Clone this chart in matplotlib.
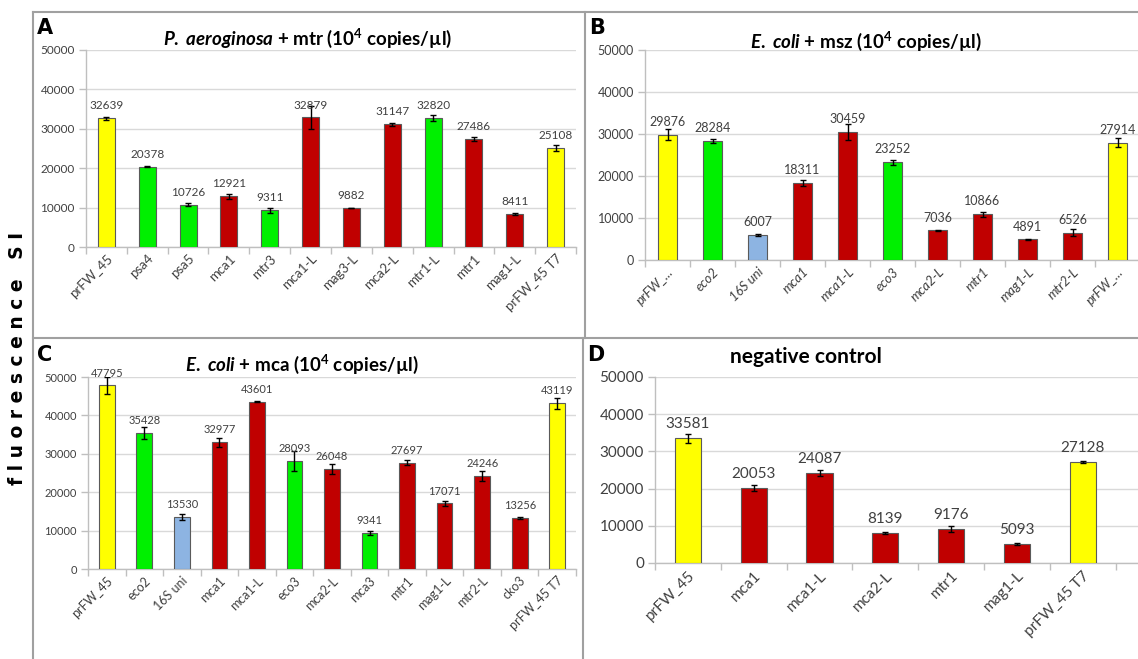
import matplotlib
matplotlib.use("Agg")
import matplotlib.pyplot as plt
from matplotlib.lines import Line2D

plt.rcParams['font.family'] = ['Lato', 'DejaVu Sans']
plt.rcParams['mathtext.fontset'] = 'custom'
plt.rcParams['mathtext.rm'] = 'Lato:bold'
plt.rcParams['mathtext.it'] = 'Lato:italic:bold'
plt.rcParams['mathtext.bf'] = 'Lato:bold'

YELLOW = '#FFFF00'
GREEN = '#00F000'
RED = '#C00000'
BLUE = '#8DB4E2'

# ---------------- data ----------------
a_labels = ['prFW_45', 'psa4', 'psa5', 'mca1', 'mtr3', 'mca1-L', 'mag3-L', 'mca2-L',
            'mtr1-L', 'mtr1', 'mag1-L', 'prFW_45 T7']
a_values = [32639, 20378, 10726, 12921, 9311, 32879, 9882, 31147, 32820, 27486, 8411, 25108]
a_errors = [300, 170, 420, 640, 640, 3000, 100, 420, 760, 500, 250, 680]
a_colors = [YELLOW, GREEN, GREEN, RED, GREEN, RED, RED, RED, GREEN, RED, RED, YELLOW]

b_labels = ['prFW_...', 'eco2', '16S uni', 'mca1', 'mca1-L', 'eco3', 'mca2-L', 'mtr1',
            'mag1-L', 'mtr2-L', 'prFW_...']
b_values = [29876, 28284, 6007, 18311, 30459, 23252, 7036, 10866, 4891, 6526, 27914]
b_errors = [1400, 520, 240, 720, 2000, 640, 150, 680, 100, 800, 1050]
b_colors = [YELLOW, GREEN, BLUE, RED, RED, GREEN, RED, RED, RED, RED, YELLOW]

c_labels = ['prFW_45', 'eco2', '16S uni', 'mca1', 'mca1-L', 'eco3', 'mca2-L', 'mca3',
            'mtr1', 'mag1-L', 'mtr2-L', 'cko3', 'prFW_45 T7']
c_values = [47795, 35428, 13530, 32977, 43601, 28093, 26048, 9341, 27697, 17071, 24246,
            13256, 43119]
c_errors = [2150, 1500, 740, 1170, 60, 2600, 1300, 560, 740, 690, 1390, 220, 1390]
c_colors = [YELLOW, GREEN, BLUE, RED, RED, GREEN, RED, GREEN, RED, RED, RED, RED, YELLOW]

d_labels = ['prFW_45', 'mca1', 'mca1-L', 'mca2-L', 'mtr1', 'mag1-L', 'prFW_45 T7']
d_values = [33581, 20053, 24087, 8139, 9176, 5093, 27128]
d_errors = [1200, 800, 800, 300, 900, 150, 300]
d_colors = [YELLOW, RED, RED, RED, RED, RED, YELLOW]

yticks = [0, 10000, 20000, 30000, 40000, 50000]

W, H = 1138, 659
fig = plt.figure(figsize=(W / 100, H / 100), dpi=100)


def px_axes(x0, x1, y0, y1):
    return fig.add_axes([x0 / W, 1 - y1 / H, (x1 - x0) / W, (y1 - y0) / H])


def panel(ax, labels, values, errors, colors, fs_tick, fs_val, fs_x, italic_x=False,
          width=0.42, xmax=None, val_off=5):
    n = len(values)
    xs = list(range(n))
    ax.bar(xs, values, width=width, color=colors, edgecolor='#5a5a5a', linewidth=0.8,
           zorder=3, yerr=errors,
           error_kw=dict(ecolor='black', elinewidth=1.0, capsize=2.5, capthick=1.0, zorder=4))
    for x, v, e in zip(xs, values, errors):
        ax.annotate(f'{v}', (x, v), xytext=(0, val_off), textcoords='offset points',
                    ha='center', va='bottom', fontsize=fs_val, color='#404040', zorder=5)
    ax.set_ylim(0, 50000)
    ax.set_xlim(-0.5, (n - 0.5) if xmax is None else xmax)
    ax.set_yticks(yticks)
    ax.set_yticklabels([str(t) for t in yticks], fontsize=fs_tick, color='#404040')
    ax.set_xticks(xs)
    ax.set_xticklabels(labels, rotation=45, ha='right', rotation_mode='anchor',
                       fontsize=fs_x, color='#404040',
                       fontstyle='italic' if italic_x else 'normal')
    ax.set_xticks([i - 0.5 for i in range(n + 1)], minor=True)
    ax.tick_params(axis='x', which='major', length=0, pad=4)
    ax.tick_params(axis='x', which='minor', length=5, color='#bfbfbf', width=1)
    ax.tick_params(axis='y', length=5, color='#bfbfbf', width=1, pad=3)
    ax.grid(axis='y', color='#d9d9d9', linewidth=1, zorder=0)
    for s in ['top', 'right']:
        ax.spines[s].set_visible(False)
    for s in ['left', 'bottom']:
        ax.spines[s].set_color('#bfbfbf')
        ax.spines[s].set_linewidth(1)
    ax.set_facecolor('none')


axA = px_axes(86, 576, 50, 247)
panel(axA, a_labels, a_values, a_errors, a_colors, 8.5, 8.5, 9.5)
axB = px_axes(645, 1140, 50, 260)
panel(axB, b_labels, b_values, b_errors, b_colors, 9, 9, 9.5, italic_x=True)
axC = px_axes(88, 576, 377, 569)
panel(axC, c_labels, c_values, c_errors, c_colors, 8, 8, 9)
axD = px_axes(655, 1138, 377, 563)
panel(axD, d_labels, d_values, d_errors, d_colors, 11, 11, 11, width=0.4,
      xmax=-0.5 + (1138 - 655) / 65.8)

# panel borders
border = '#a0a0a0'
def fline(xs, ys):
    fig.add_artist(Line2D([x / W for x in xs], [1 - y / H for y in ys],
                          color=border, linewidth=1.5))
fline([33, 1138], [12, 12])
fline([33, 33], [12, 659])
fline([33, 1138], [338, 338])
fline([585, 585], [12, 338])
fline([583, 583], [338, 659])

# panel letters
for letter, x, y in [('A', 37, 28), ('B', 589, 28), ('C', 37, 355), ('D', 587, 355)]:
    fig.text(x / W, 1 - y / H, letter, fontsize=15, fontweight='bold', ha='left',
             va='center', family='DejaVu Sans')

# titles
fig.text(308 / W, 1 - 38 / H,
         r'$\it{P.}$ $\it{aeroginosa}$ + mtr (10$^{4}$ copies/µl)',
         fontsize=13.5, fontweight='bold', ha='center', va='center')
fig.text(866 / W, 1 - 41 / H,
         r'$\it{E.}$ $\it{coli}$ + msz (10$^{4}$ copies/µl)',
         fontsize=13.5, fontweight='bold', ha='center', va='center')
fig.text(302 / W, 1 - 364 / H,
         r'$\it{E.}$ $\it{coli}$ + mca (10$^{4}$ copies/µl)',
         fontsize=13.5, fontweight='bold', ha='center', va='center')
fig.text(806 / W, 1 - 357 / H, 'negative control', fontsize=15, fontweight='bold',
         ha='center', va='center')

# shared y label
fig.text(18 / W, 1 - 358 / H, 'f l u o r e s c e n c e   S I', rotation=90,
         fontsize=13.5, fontweight='bold', ha='center', va='center', family='DejaVu Sans')

fig.savefig('out.png', dpi=100)
